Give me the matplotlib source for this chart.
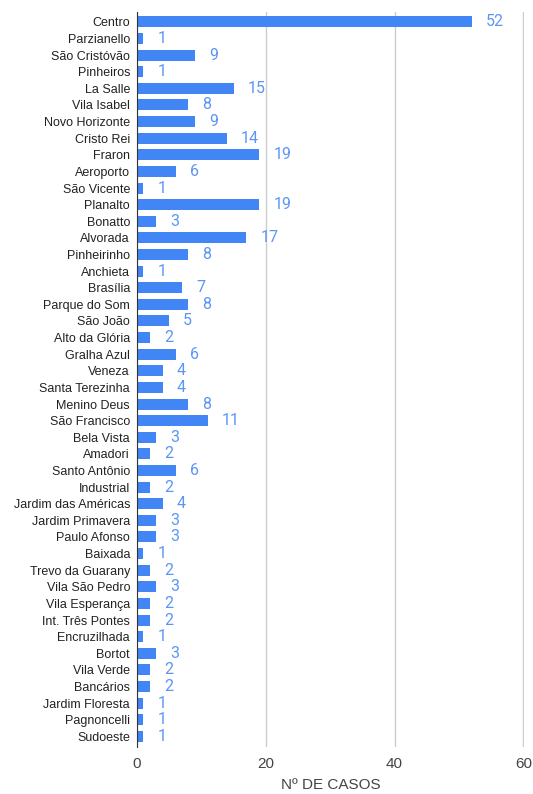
import matplotlib.pyplot as plt

bairros = ["Centro", "Parzianello", "São Cristóvão", "Pinheiros", "La Salle",
           "Vila Isabel", "Novo Horizonte", "Cristo Rei", "Fraron", "Aeroporto",
           "São Vicente", "Planalto", "Bonatto", "Alvorada", "Pinheirinho",
           "Anchieta", "Brasília", "Parque do Som", "São João", "Alto da Glória",
           "Gralha Azul", "Veneza", "Santa Terezinha", "Menino Deus",
           "São Francisco", "Bela Vista", "Amadori", "Santo Antônio",
           "Industrial", "Jardim das Américas", "Jardim Primavera",
           "Paulo Afonso", "Baixada", "Trevo da Guarany", "Vila São Pedro",
           "Vila Esperança", "Int. Três Pontes", "Encruzilhada", "Bortot",
           "Vila Verde", "Bancários", "Jardim Floresta", "Pagnoncelli",
           "Sudoeste"]
casos = [52, 1, 9, 1, 15, 8, 9, 14, 19, 6, 1, 19, 3, 17, 8, 1, 7, 8, 5, 2,
         6, 4, 4, 8, 11, 3, 2, 6, 2, 4, 3, 3, 1, 2, 3, 2, 2, 1, 3, 2, 2, 1, 1, 1]
ticks = [0, 20, 40, 60]

plt.rcParams['font.family'] = ['Roboto', 'DejaVu Sans']
arial = ["Liberation Sans", "DejaVu Sans"]

fig = plt.figure(figsize=(5.33, 7.94), dpi=100)
ax = fig.add_axes([0.257, 0.059, 0.726, 0.926])

pos = list(range(len(bairros)))
ax.barh(pos, casos, height=0.66, color="#4285F4", zorder=3)

for i, v in zip(pos, casos):
    ax.annotate(str(v), xy=(v, i), xytext=(14, 0), textcoords="offset pixels",
                ha="left", va="center", fontsize=11.5, color="#5c95f6")

ax.set_xlim(0, 60.1)
ax.set_ylim(len(bairros) - 0.35, -0.6)
ax.set_yticks(pos)
ax.set_yticklabels(bairros, fontsize=9, color="#222222", family=arial)
ax.set_xticks(ticks)
ax.set_xticklabels([str(t) for t in ticks], fontsize=11, color="#444444",
                   family=arial)
ax.tick_params(axis="y", length=0, pad=5)
ax.tick_params(axis="x", length=0, pad=7)

ax.grid(axis="x", color="#cccccc", linewidth=1, zorder=0)
for s in ["top", "right", "bottom"]:
    ax.spines[s].set_visible(False)
ax.spines["left"].set_color("#333333")
ax.spines["left"].set_zorder(4)

ax.set_xlabel("Nº DE CASOS", fontsize=11, color="#444444", labelpad=5,
              family=arial)

fig.savefig("out.png", dpi=100)
